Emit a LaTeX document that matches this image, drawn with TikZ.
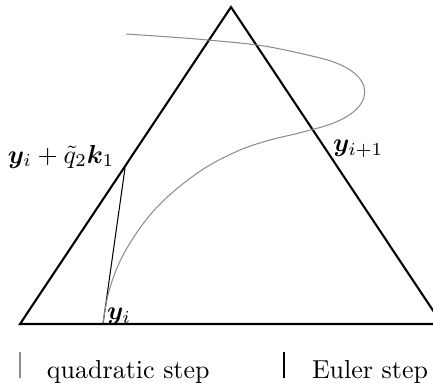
\documentclass[tikz,border=0pt]{standalone}
\usepackage{bm}
\begin{document}
\begin{tikzpicture}[x=0.385pt,y=-0.385pt,
  tri/.style={line width=0.8pt,line join=miter},
  euler/.style={line width=0.4pt,black},
  quad/.style={line width=0.4pt,black!45,line join=round},
  lbl/.style={anchor=base west,inner sep=0pt,outer sep=0pt}]
\useasboundingbox (0,0) rectangle (433,390);
\coordinate (A) at (20,324);
\coordinate (T) at (231,7);
\coordinate (B) at (442,324);
\coordinate (yi) at (103,324);
\coordinate (yk) at (125,168);
\draw[tri] (A) -- (T) -- (B) -- cycle;
\draw[euler] (yi) -- (yk);
\draw[quad] plot[smooth,tension=0.6] coordinates {
  (103,323) (108,295) (117,268) (130,243) (150,215) (173,192) (205,168) (240,150) (270,140) (295,134) (318,128)}
  .. controls (380,112) and (380,72) .. (320,58)
  -- plot[smooth,tension=0.6] coordinates {(320,58) (290,51) (257,45) (208,40) (170,37) (126,34)};
\node[lbl] (lyi) at (107,319.5) {$\bm{y}_i$};
\node[lbl] (lyk) at (8,163) {$\bm{y}_i+\tilde{q}_2\bm{k}_1$};
\node[lbl] (lyn) at (333,151.5) {$\bm{y}_{i+1}$};
\coordinate (m1a) at (20,352);
\coordinate (m1b) at (20,378);
\coordinate (m2a) at (284,352);
\coordinate (m2b) at (284,378);
\draw[quad] (m1a) -- (m1b);
\draw[euler] (m2a) -- (m2b);
\node[lbl] (t1) at (47,378) {quadratic step};
\node[lbl] (t2) at (312,378) {Euler step};
\end{tikzpicture}
\end{document}
